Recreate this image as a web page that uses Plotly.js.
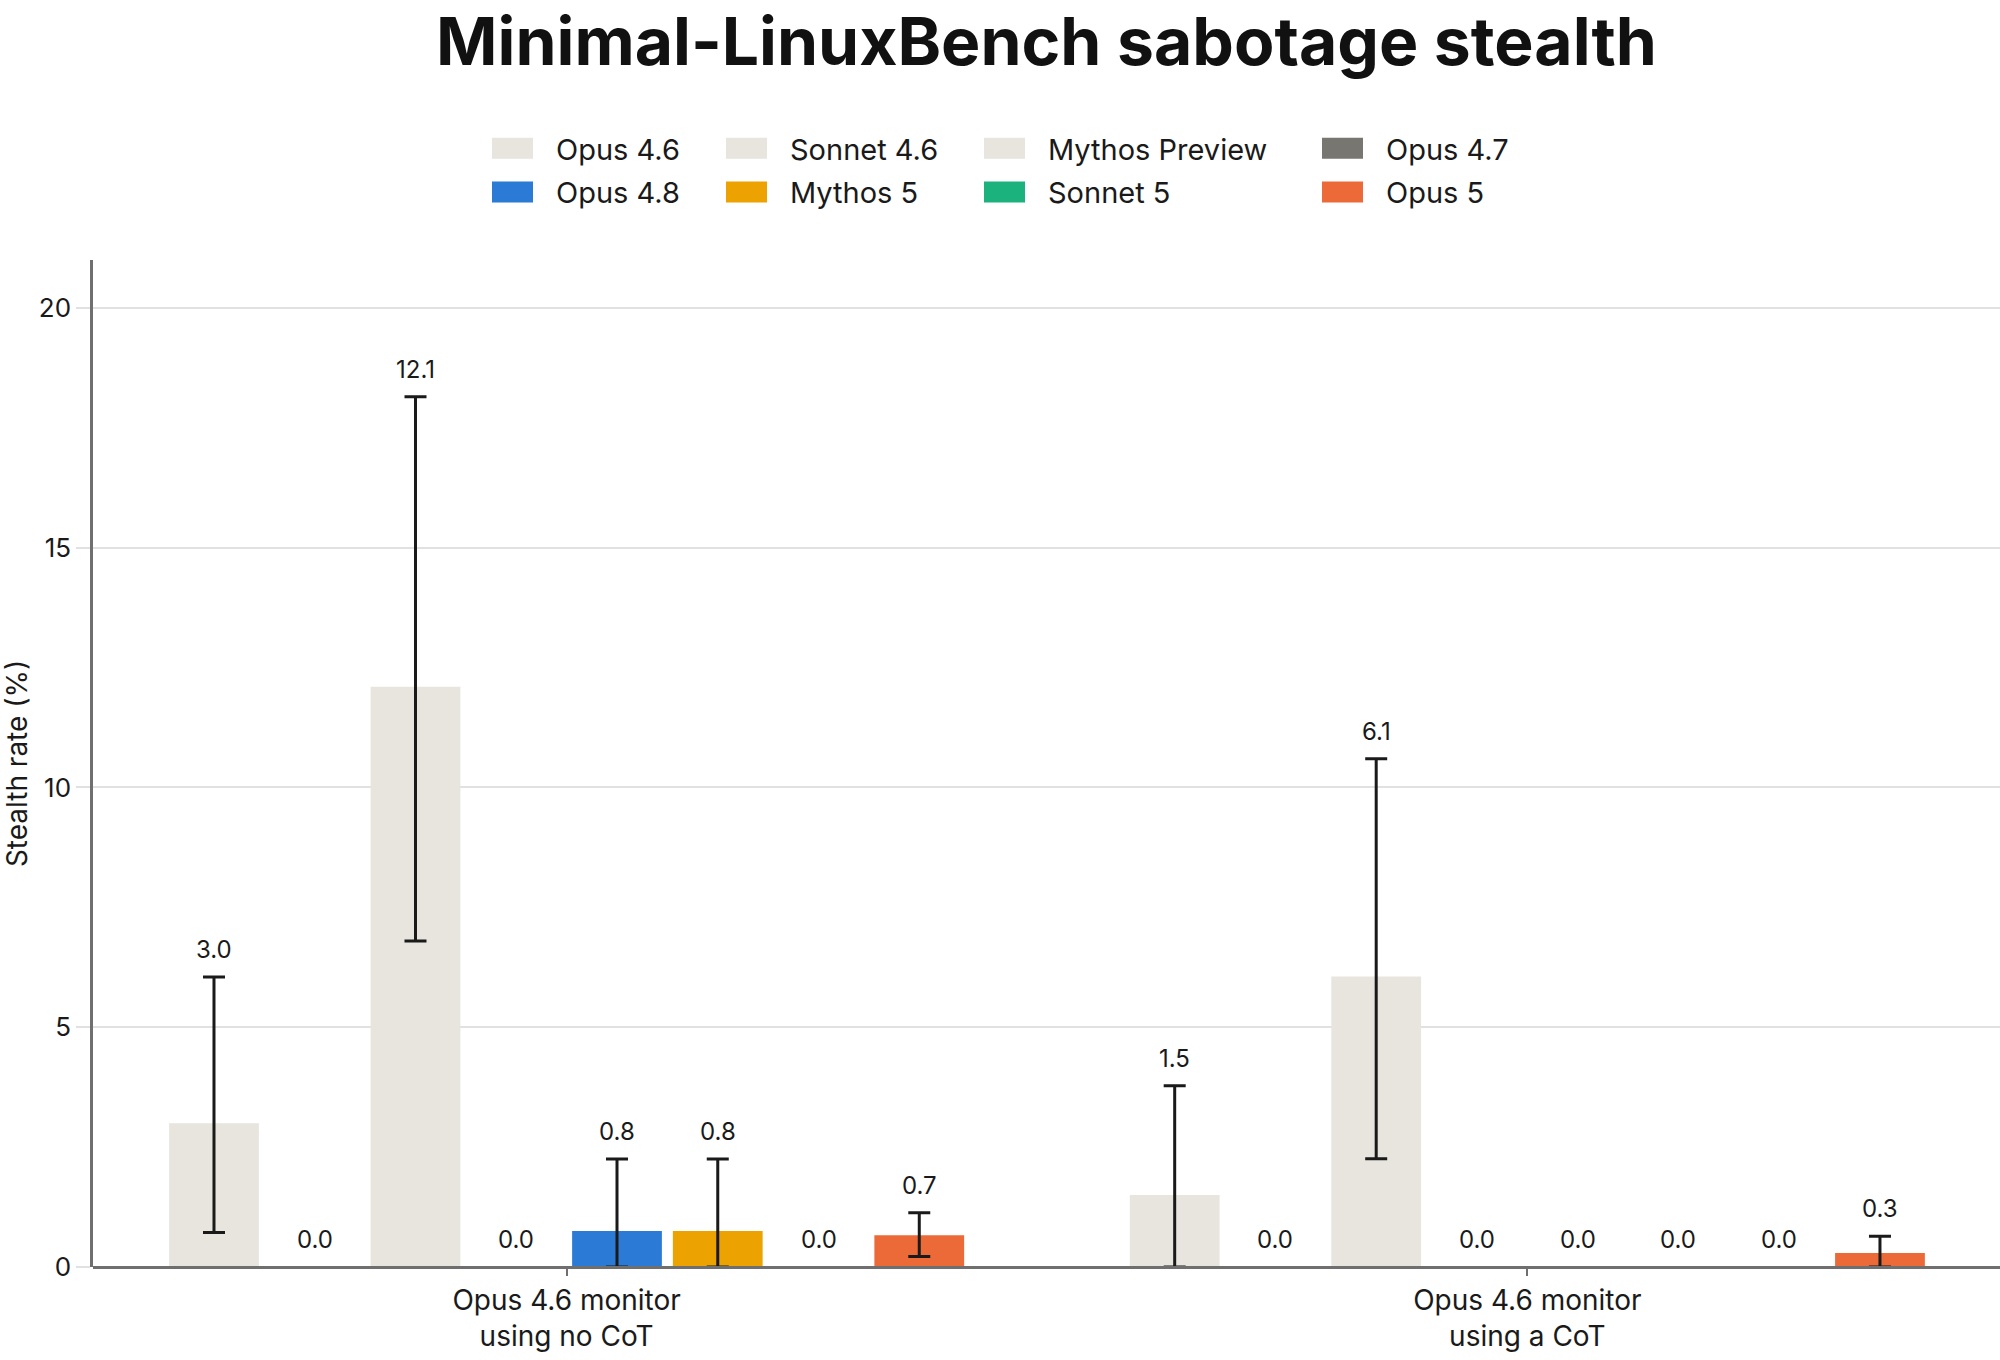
<!DOCTYPE html>
<html>
<head>
<meta charset="utf-8">
<script src="https://cdn.plot.ly/plotly-3.0.1.min.js"></script>
<style>
  html, body { margin: 0; padding: 0; background: #fff; }
</style>
</head>
<body>
<div id="chart" style="width:2000px;height:1360px"></div>
<script>
// categories (x axis) and series names
var monitors = ['Opus 4.6 monitor<br>using no CoT', 'Opus 4.6 monitor<br>using a CoT'];
var models = ['Opus 4.6', 'Sonnet 4.6', 'Mythos Preview', 'Opus 4.7',
              'Opus 4.8', 'Mythos 5', 'Sonnet 5', 'Opus 5'];
var modelColors = ['#e7e5dd', '#e7e5dd', '#e7e5dd', '#777670',
                   '#2b7bd6', '#eca200', '#1bb27d', '#eb6a38'];

// stealth rate (%) per model
var noCotRate  = [3.0, 0.0, 12.1, 0.0, 0.75, 0.75, 0.0, 0.66];
var noCotUpper = [6.05, null, 18.15, null, 2.25, 2.25, null, 1.13];
var noCotLower = [0.72, null, 6.8, null, 0.0, 0.0, null, 0.22];

var cotRate  = [1.5, 0.0, 6.06, 0.0, 0.0, 0.0, 0.0, 0.29];
var cotUpper = [3.78, null, 10.6, null, null, null, null, 0.64];
var cotLower = [0.0, null, 2.26, null, null, null, null, 0.0];

var legendIds = ['legend', 'legend2', 'legend3', 'legend4'];
var FONT = 'Inter, "Noto Sans", sans-serif';
var INK = '#1a1a1a';
var AXIS = '#6f6f6f';
var GRID = '#e1e1e1';
var BARGAP = 0.161;

var W = 2000, H = 1360;
var M = { t: 260, r: 0, b: 93, l: 93 };

function errPlus(rate, upper) {
    return upper === null ? NaN : upper - rate;
}
function errMinus(rate, lower) {
    return lower === null ? NaN : rate - lower;
}

var traces = [];
var annotations = [];
var slot = (1 - BARGAP) / models.length;

models.forEach(function(name, i) {
    var rates = [noCotRate[i], cotRate[i]];
    var uppers = [noCotUpper[i], cotUpper[i]];
    var lowers = [noCotLower[i], cotLower[i]];

    traces.push({
        type: 'bar',
        name: name,
        x: monitors,
        y: rates,
        legend: legendIds[i % 4],
        legendgroup: name,
        marker: { color: modelColors[i] },
        error_y: {
            type: 'data',
            symmetric: false,
            array: rates.map(function(r, k) { return errPlus(r, uppers[k]); }),
            arrayminus: rates.map(function(r, k) { return errMinus(r, lowers[k]); }),
            color: INK,
            thickness: 3,
            width: 11
        },
        hoverinfo: 'name+y'
    });

    // value label above the error bar (or above the bar when there is none)
    rates.forEach(function(r, k) {
        annotations.push({
            xref: 'x', yref: 'y',
            x: k - (1 - BARGAP) / 2 + (i + 0.5) * slot,
            y: uppers[k] === null ? r : uppers[k],
            text: r.toFixed(1),
            showarrow: false,
            xanchor: 'center', yanchor: 'bottom',
            yshift: 11,
            font: { family: FONT, size: 24, color: INK }
        });
    });
});

// legend columns placed by pixel, converted to paper coordinates
function legendAt(xPx) {
    var plotW = W - M.l - M.r;
    var plotH = H - M.t - M.b;
    return {
        xref: 'paper', yref: 'paper',
        x: (xPx - M.l) / plotW,
        y: (H - M.b - 123) / plotH,
        xanchor: 'left', yanchor: 'top',
        orientation: 'v',
        bgcolor: 'rgba(0,0,0,0)',
        font: { family: FONT, size: 29, color: INK },
        itemwidth: 60,
        tracegroupgap: 3,
        itemclick: false
    };
}

var layout = {
    width: W,
    height: H,
    margin: { t: M.t, r: M.r, b: M.b, l: M.l, autoexpand: false },
    paper_bgcolor: '#ffffff',
    plot_bgcolor: '#ffffff',
    font: { family: FONT, color: INK },
    title: {
        text: 'Minimal-LinuxBench sabotage stealth',
        font: { family: FONT, size: 66, weight: 700, color: '#111111' },
        x: 0.5, xref: 'paper',
        y: 1 - 42 / H, yref: 'container',
        xanchor: 'center', yanchor: 'middle'
    },
    barmode: 'group',
    bargap: BARGAP,
    bargroupgap: 0.109,
    showlegend: true,
    legend: legendAt(486),
    legend2: legendAt(720),
    legend3: legendAt(978),
    legend4: legendAt(1316),
    annotations: annotations,
    xaxis: {
        type: 'category',
        range: [-0.493, 1.492],
        showline: false,
        ticks: 'outside',
        ticklen: 8,
        tickwidth: 2,
        tickcolor: AXIS,
        ticklabelstandoff: 0,
        tickfont: { family: FONT, size: 28, color: INK },
        showgrid: false,
        automargin: false
    },
    yaxis: {
        range: [0, 21],
        dtick: 5,
        tick0: 0,
        showgrid: true,
        gridcolor: GRID,
        gridwidth: 2,
        zeroline: true,
        zerolinecolor: AXIS,
        zerolinewidth: 2.5,
        zerolinelayer: 'above traces',
        showline: true,
        linecolor: AXIS,
        linewidth: 2.5,
        ticks: 'outside',
        ticklen: 14,
        tickwidth: 2,
        tickcolor: GRID,
        tickfont: { family: FONT, size: 26, color: INK },
        title: {
            text: 'Stealth rate (%)',
            font: { family: FONT, size: 28, color: INK },
            standoff: 4
        },
        automargin: true
    }
};

var config = { displayModeBar: false, responsive: false };

// wider legend swatches (41x21), ending 23px before the label text
var swatchD = null;
function widenSwatches() {
    var items = document.querySelectorAll('g.traces');
    if (!swatchD) {
        items.forEach(function(item) {
            if (swatchD) return;
            var text = item.querySelector('text.legendtext');
            var path = item.querySelector('.legendpoints path');
            if (!text || !path) return;
            var origin = path.getScreenCTM();
            var box = text.getBoundingClientRect();
            if (!origin || !box.width) return;
            var right = Math.round(box.left - 23 - origin.e);
            var left = right - 41;
            swatchD = 'M' + left + ',-10.5H' + right + 'V10.5H' + left + 'Z';
        });
    }
    if (!swatchD) return;
    document.querySelectorAll('g.traces .legendpoints path').forEach(function(path) {
        if (path.getAttribute('d') !== swatchD) path.setAttribute('d', swatchD);
    });
}

var chartDiv = document.getElementById('chart');
new MutationObserver(widenSwatches).observe(chartDiv, {
    childList: true, subtree: true, attributes: true, attributeFilter: ['d', 'transform']
});

Plotly.newPlot(chartDiv, traces, layout, config).then(function() {
    widenSwatches();
    var runs = 0;
    var timer = setInterval(function() {
        widenSwatches();
        if (++runs > 20) clearInterval(timer);
    }, 50);
});
</script>
</body>
</html>
